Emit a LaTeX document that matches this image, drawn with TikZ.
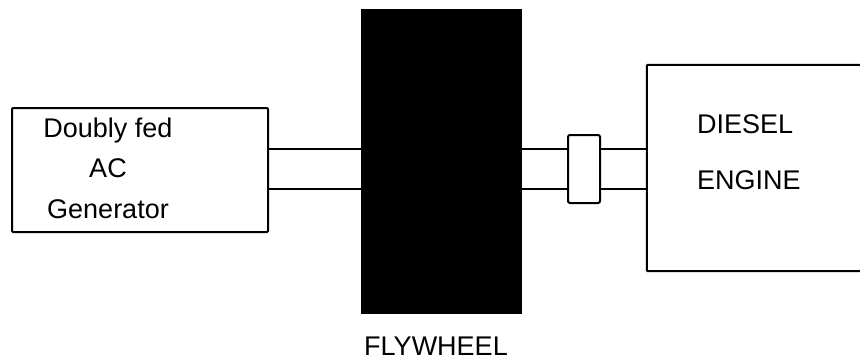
\documentclass[tikz,border=0pt]{standalone}
\usepackage{fontspec}
\setmainfont{Liberation Sans}
\begin{document}
\begin{tikzpicture}[x=1pt,y=-1pt,
  line/.style={line width=2pt},
  lbl/.style={font=\fontsize{27}{40.5}\selectfont, inner sep=0pt, align=center}]
\useasboundingbox (0,0) rectangle (860,361);
\begin{scope}
\clip (0,0) rectangle (860,361);
% generator
\node[draw, line, rounded corners=1pt, minimum width=256, minimum height=124, inner sep=0pt] (gen) at (140,170) {};
\node[lbl] (gentext) at (108,168) {Doubly fed\\AC\\Generator};
% flywheel
\node[fill=black, draw, line, minimum width=159, minimum height=303, inner sep=0pt] (fly) at (441.5,161.5) {};
\node[lbl] (flylbl) at (436,346) {FLYWHEEL};
% engine (open on right)
\node[minimum width=260, minimum height=206, inner sep=0pt] (eng) at (777,168) {};
\draw[line, rounded corners=1pt] (eng.north east) -- (eng.north west) -- (eng.south west) -- (eng.south east);
\node[lbl, anchor=west] (engtext1) at (697,124) {DIESEL};
\node[lbl, anchor=west] (engtext2) at (697,180) {ENGINE};
% coupling
\node[draw, line, rounded corners=2pt, minimum width=32, minimum height=68, inner sep=0pt, fill=white] (coup) at (584,169) {};
% shafts
\coordinate (sa) at (0,149);
\coordinate (sb) at (0,189);
\draw[line] (gen.east |- sa) -- (fly.west |- sa);
\draw[line] (gen.east |- sb) -- (fly.west |- sb);
\draw[line] (fly.east |- sa) -- (coup.west |- sa);
\draw[line] (fly.east |- sb) -- (coup.west |- sb);
\draw[line] (coup.east |- sa) -- (eng.west |- sa);
\draw[line] (coup.east |- sb) -- (eng.west |- sb);
\end{scope}
\end{tikzpicture}
\end{document}
